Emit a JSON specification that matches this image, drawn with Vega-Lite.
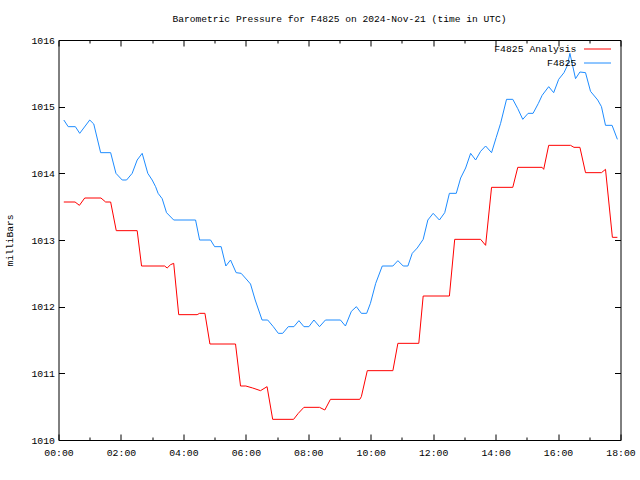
{
  "$schema": "https://vega.github.io/schema/vega-lite/v6.json",
  "width": 562,
  "height": 400,
  "autosize": {"type": "none"},
  "padding": {"left": 58.5, "top": 40, "right": 19.5, "bottom": 40},
  "background": "white",
  "title": {"text": "Barometric Pressure for F4825 on 2024-Nov-21 (time in UTC)", "anchor": "middle", "font": "Liberation Mono", "fontSize": 9.6, "fontWeight": "normal", "color": "black", "offset": 11},
  "config": {
    "view": {"stroke": "black", "strokeWidth": 1},
    "axis": {"grid": false, "domain": false, "labelFont": "Liberation Mono", "labelFontSize": 9.8, "labelColor": "black", "tickColor": "black", "tickWidth": 1, "titleFont": "Liberation Mono", "titleFontSize": 9.6, "titleFontWeight": "normal", "titleColor": "black"},
    "legend": {"orient": "none", "legendX": 525, "title": null, "symbolType": "stroke", "symbolSize": 729, "symbolStrokeWidth": 1,
               "labelAlign": "right", "labelOffset": -35, "labelFont": "Liberation Mono", "labelFontSize": 9.8, "labelColor": "black", "labelLimit": 0, "padding": 0}
  },
  "data": {"values": [
    {"series": "F4825 Analysis", "hour": 0.17, "pressure": 1013.57},
    {"series": "F4825 Analysis", "hour": 0.53, "pressure": 1013.57},
    {"series": "F4825 Analysis", "hour": 0.67, "pressure": 1013.52},
    {"series": "F4825 Analysis", "hour": 0.84, "pressure": 1013.63},
    {"series": "F4825 Analysis", "hour": 1.36, "pressure": 1013.63},
    {"series": "F4825 Analysis", "hour": 1.51, "pressure": 1013.57},
    {"series": "F4825 Analysis", "hour": 1.67, "pressure": 1013.57},
    {"series": "F4825 Analysis", "hour": 1.85, "pressure": 1013.14},
    {"series": "F4825 Analysis", "hour": 2.52, "pressure": 1013.14},
    {"series": "F4825 Analysis", "hour": 2.66, "pressure": 1012.61},
    {"series": "F4825 Analysis", "hour": 3.40, "pressure": 1012.61},
    {"series": "F4825 Analysis", "hour": 3.48, "pressure": 1012.58},
    {"series": "F4825 Analysis", "hour": 3.59, "pressure": 1012.63},
    {"series": "F4825 Analysis", "hour": 3.69, "pressure": 1012.65},
    {"series": "F4825 Analysis", "hour": 3.85, "pressure": 1011.88},
    {"series": "F4825 Analysis", "hour": 4.44, "pressure": 1011.88},
    {"series": "F4825 Analysis", "hour": 4.52, "pressure": 1011.90},
    {"series": "F4825 Analysis", "hour": 4.69, "pressure": 1011.90},
    {"series": "F4825 Analysis", "hour": 4.85, "pressure": 1011.44},
    {"series": "F4825 Analysis", "hour": 5.67, "pressure": 1011.44},
    {"series": "F4825 Analysis", "hour": 5.83, "pressure": 1010.81},
    {"series": "F4825 Analysis", "hour": 6.00, "pressure": 1010.81},
    {"series": "F4825 Analysis", "hour": 6.22, "pressure": 1010.78},
    {"series": "F4825 Analysis", "hour": 6.47, "pressure": 1010.74},
    {"series": "F4825 Analysis", "hour": 6.68, "pressure": 1010.80},
    {"series": "F4825 Analysis", "hour": 6.86, "pressure": 1010.31},
    {"series": "F4825 Analysis", "hour": 7.53, "pressure": 1010.31},
    {"series": "F4825 Analysis", "hour": 7.68, "pressure": 1010.40},
    {"series": "F4825 Analysis", "hour": 7.86, "pressure": 1010.49},
    {"series": "F4825 Analysis", "hour": 8.36, "pressure": 1010.49},
    {"series": "F4825 Analysis", "hour": 8.53, "pressure": 1010.45},
    {"series": "F4825 Analysis", "hour": 8.71, "pressure": 1010.61},
    {"series": "F4825 Analysis", "hour": 9.65, "pressure": 1010.61},
    {"series": "F4825 Analysis", "hour": 9.70, "pressure": 1010.65},
    {"series": "F4825 Analysis", "hour": 9.89, "pressure": 1011.04},
    {"series": "F4825 Analysis", "hour": 10.71, "pressure": 1011.04},
    {"series": "F4825 Analysis", "hour": 10.87, "pressure": 1011.45},
    {"series": "F4825 Analysis", "hour": 11.54, "pressure": 1011.45},
    {"series": "F4825 Analysis", "hour": 11.68, "pressure": 1012.16},
    {"series": "F4825 Analysis", "hour": 12.52, "pressure": 1012.16},
    {"series": "F4825 Analysis", "hour": 12.69, "pressure": 1013.01},
    {"series": "F4825 Analysis", "hour": 13.52, "pressure": 1013.01},
    {"series": "F4825 Analysis", "hour": 13.68, "pressure": 1012.92},
    {"series": "F4825 Analysis", "hour": 13.87, "pressure": 1013.79},
    {"series": "F4825 Analysis", "hour": 14.55, "pressure": 1013.79},
    {"series": "F4825 Analysis", "hour": 14.71, "pressure": 1014.09},
    {"series": "F4825 Analysis", "hour": 15.49, "pressure": 1014.09},
    {"series": "F4825 Analysis", "hour": 15.54, "pressure": 1014.06},
    {"series": "F4825 Analysis", "hour": 15.70, "pressure": 1014.42},
    {"series": "F4825 Analysis", "hour": 16.40, "pressure": 1014.42},
    {"series": "F4825 Analysis", "hour": 16.51, "pressure": 1014.39},
    {"series": "F4825 Analysis", "hour": 16.70, "pressure": 1014.39},
    {"series": "F4825 Analysis", "hour": 16.88, "pressure": 1014.01},
    {"series": "F4825 Analysis", "hour": 17.39, "pressure": 1014.01},
    {"series": "F4825 Analysis", "hour": 17.52, "pressure": 1014.06},
    {"series": "F4825 Analysis", "hour": 17.74, "pressure": 1013.04},
    {"series": "F4825 Analysis", "hour": 17.90, "pressure": 1013.04},
    {"series": "F4825", "hour": 0.17, "pressure": 1014.80},
    {"series": "F4825", "hour": 0.31, "pressure": 1014.70},
    {"series": "F4825", "hour": 0.54, "pressure": 1014.70},
    {"series": "F4825", "hour": 0.68, "pressure": 1014.60},
    {"series": "F4825", "hour": 1.00, "pressure": 1014.80},
    {"series": "F4825", "hour": 1.13, "pressure": 1014.74},
    {"series": "F4825", "hour": 1.35, "pressure": 1014.31},
    {"series": "F4825", "hour": 1.67, "pressure": 1014.31},
    {"series": "F4825", "hour": 1.84, "pressure": 1014.00},
    {"series": "F4825", "hour": 2.04, "pressure": 1013.90},
    {"series": "F4825", "hour": 2.18, "pressure": 1013.90},
    {"series": "F4825", "hour": 2.36, "pressure": 1014.00},
    {"series": "F4825", "hour": 2.52, "pressure": 1014.20},
    {"series": "F4825", "hour": 2.68, "pressure": 1014.30},
    {"series": "F4825", "hour": 2.86, "pressure": 1014.00},
    {"series": "F4825", "hour": 3.00, "pressure": 1013.90},
    {"series": "F4825", "hour": 3.11, "pressure": 1013.80},
    {"series": "F4825", "hour": 3.19, "pressure": 1013.70},
    {"series": "F4825", "hour": 3.32, "pressure": 1013.62},
    {"series": "F4825", "hour": 3.46, "pressure": 1013.41},
    {"series": "F4825", "hour": 3.69, "pressure": 1013.30},
    {"series": "F4825", "hour": 4.39, "pressure": 1013.30},
    {"series": "F4825", "hour": 4.52, "pressure": 1013.00},
    {"series": "F4825", "hour": 4.87, "pressure": 1013.00},
    {"series": "F4825", "hour": 5.00, "pressure": 1012.90},
    {"series": "F4825", "hour": 5.21, "pressure": 1012.90},
    {"series": "F4825", "hour": 5.36, "pressure": 1012.61},
    {"series": "F4825", "hour": 5.51, "pressure": 1012.70},
    {"series": "F4825", "hour": 5.69, "pressure": 1012.51},
    {"series": "F4825", "hour": 5.85, "pressure": 1012.50},
    {"series": "F4825", "hour": 6.04, "pressure": 1012.40},
    {"series": "F4825", "hour": 6.15, "pressure": 1012.34},
    {"series": "F4825", "hour": 6.30, "pressure": 1012.10},
    {"series": "F4825", "hour": 6.52, "pressure": 1011.80},
    {"series": "F4825", "hour": 6.70, "pressure": 1011.80},
    {"series": "F4825", "hour": 6.88, "pressure": 1011.70},
    {"series": "F4825", "hour": 7.04, "pressure": 1011.60},
    {"series": "F4825", "hour": 7.18, "pressure": 1011.60},
    {"series": "F4825", "hour": 7.36, "pressure": 1011.70},
    {"series": "F4825", "hour": 7.54, "pressure": 1011.70},
    {"series": "F4825", "hour": 7.70, "pressure": 1011.79},
    {"series": "F4825", "hour": 7.86, "pressure": 1011.70},
    {"series": "F4825", "hour": 8.02, "pressure": 1011.70},
    {"series": "F4825", "hour": 8.18, "pressure": 1011.80},
    {"series": "F4825", "hour": 8.36, "pressure": 1011.70},
    {"series": "F4825", "hour": 8.55, "pressure": 1011.80},
    {"series": "F4825", "hour": 9.03, "pressure": 1011.80},
    {"series": "F4825", "hour": 9.19, "pressure": 1011.71},
    {"series": "F4825", "hour": 9.38, "pressure": 1011.93},
    {"series": "F4825", "hour": 9.54, "pressure": 1012.00},
    {"series": "F4825", "hour": 9.70, "pressure": 1011.90},
    {"series": "F4825", "hour": 9.87, "pressure": 1011.90},
    {"series": "F4825", "hour": 9.99, "pressure": 1012.05},
    {"series": "F4825", "hour": 10.16, "pressure": 1012.35},
    {"series": "F4825", "hour": 10.37, "pressure": 1012.61},
    {"series": "F4825", "hour": 10.71, "pressure": 1012.61},
    {"series": "F4825", "hour": 10.87, "pressure": 1012.69},
    {"series": "F4825", "hour": 11.04, "pressure": 1012.61},
    {"series": "F4825", "hour": 11.19, "pressure": 1012.61},
    {"series": "F4825", "hour": 11.33, "pressure": 1012.80},
    {"series": "F4825", "hour": 11.49, "pressure": 1012.88},
    {"series": "F4825", "hour": 11.68, "pressure": 1013.01},
    {"series": "F4825", "hour": 11.83, "pressure": 1013.30},
    {"series": "F4825", "hour": 12.00, "pressure": 1013.40},
    {"series": "F4825", "hour": 12.20, "pressure": 1013.30},
    {"series": "F4825", "hour": 12.37, "pressure": 1013.41},
    {"series": "F4825", "hour": 12.52, "pressure": 1013.70},
    {"series": "F4825", "hour": 12.74, "pressure": 1013.70},
    {"series": "F4825", "hour": 12.88, "pressure": 1013.93},
    {"series": "F4825", "hour": 13.04, "pressure": 1014.08},
    {"series": "F4825", "hour": 13.20, "pressure": 1014.30},
    {"series": "F4825", "hour": 13.36, "pressure": 1014.20},
    {"series": "F4825", "hour": 13.52, "pressure": 1014.33},
    {"series": "F4825", "hour": 13.68, "pressure": 1014.41},
    {"series": "F4825", "hour": 13.87, "pressure": 1014.31},
    {"series": "F4825", "hour": 14.02, "pressure": 1014.54},
    {"series": "F4825", "hour": 14.16, "pressure": 1014.75},
    {"series": "F4825", "hour": 14.35, "pressure": 1015.11},
    {"series": "F4825", "hour": 14.55, "pressure": 1015.11},
    {"series": "F4825", "hour": 14.71, "pressure": 1014.97},
    {"series": "F4825", "hour": 14.87, "pressure": 1014.81},
    {"series": "F4825", "hour": 15.04, "pressure": 1014.90},
    {"series": "F4825", "hour": 15.20, "pressure": 1014.90},
    {"series": "F4825", "hour": 15.37, "pressure": 1015.05},
    {"series": "F4825", "hour": 15.49, "pressure": 1015.17},
    {"series": "F4825", "hour": 15.70, "pressure": 1015.30},
    {"series": "F4825", "hour": 15.86, "pressure": 1015.21},
    {"series": "F4825", "hour": 16.02, "pressure": 1015.41},
    {"series": "F4825", "hour": 16.19, "pressure": 1015.51},
    {"series": "F4825", "hour": 16.30, "pressure": 1015.62},
    {"series": "F4825", "hour": 16.38, "pressure": 1015.80},
    {"series": "F4825", "hour": 16.56, "pressure": 1015.42},
    {"series": "F4825", "hour": 16.70, "pressure": 1015.52},
    {"series": "F4825", "hour": 16.88, "pressure": 1015.51},
    {"series": "F4825", "hour": 17.04, "pressure": 1015.23},
    {"series": "F4825", "hour": 17.27, "pressure": 1015.10},
    {"series": "F4825", "hour": 17.39, "pressure": 1015.00},
    {"series": "F4825", "hour": 17.52, "pressure": 1014.72},
    {"series": "F4825", "hour": 17.73, "pressure": 1014.72},
    {"series": "F4825", "hour": 17.90, "pressure": 1014.51}
  ]},
  "layer": [
    {
      "transform": [{"filter": "datum.series == 'F4825 Analysis'"}],
      "mark": {"type": "line", "strokeWidth": 1},
      "encoding": {
        "x": {"field": "hour", "type": "quantitative", "scale": {"domain": [0, 18], "nice": false, "zero": false},
              "axis": {"orient": "bottom", "values": [0, 2, 4, 6, 8, 10, 12, 14, 16, 18], "tickSize": -6, "labelPadding": 13, "labelFlush": false, "labelOverlap": false,
                       "labelExpr": "(datum.value < 10 ? '0' : '') + datum.value + ':00'", "title": null}},
        "y": {"field": "pressure", "type": "quantitative", "scale": {"domain": [1010, 1016], "nice": false, "zero": false},
              "axis": {"orient": "left", "values": [1010, 1011, 1012, 1013, 1014, 1015, 1016], "tickSize": -6, "format": "d", "labelPadding": 10, "title": "milliBars", "titlePadding": 16}},
        "color": {"field": "series", "type": "nominal",
                  "scale": {"domain": ["F4825 Analysis"], "range": ["#ff0000"]},
                  "legend": {"legendY": -5}}
      }
    },
    {
      "transform": [{"filter": "datum.series == 'F4825'"}],
      "mark": {"type": "line", "strokeWidth": 1},
      "encoding": {
        "x": {"field": "hour", "type": "quantitative", "axis": {"orient": "top", "values": [0, 2, 4, 6, 8, 10, 12, 14, 16, 18], "tickSize": -6, "labels": false, "title": null}},
        "y": {"field": "pressure", "type": "quantitative", "axis": {"orient": "right", "values": [1010, 1011, 1012, 1013, 1014, 1015, 1016], "tickSize": -6, "labels": false, "title": null}},
        "color": {"field": "series", "type": "nominal",
                  "scale": {"domain": ["F4825"], "range": ["#1e8cff"]},
                  "legend": {"legendY": 9}}
      }
    },
    {
      "mark": {"type": "line", "opacity": 0},
      "encoding": {
        "x": {"field": "hour", "type": "quantitative", "axis": {"orient": "bottom", "values": [1, 3, 5, 7, 9, 11, 13, 15, 17], "tickSize": -3, "labels": false, "title": null}},
        "y": {"field": "pressure", "type": "quantitative", "axis": null}
      }
    },
    {
      "mark": {"type": "line", "opacity": 0},
      "encoding": {
        "x": {"field": "hour", "type": "quantitative", "axis": {"orient": "top", "values": [1, 3, 5, 7, 9, 11, 13, 15, 17], "tickSize": -3, "labels": false, "title": null}},
        "y": {"field": "pressure", "type": "quantitative", "axis": null}
      }
    }
  ],
  "resolve": {"axis": {"x": "independent", "y": "independent"}, "scale": {"color": "independent"}}
}
